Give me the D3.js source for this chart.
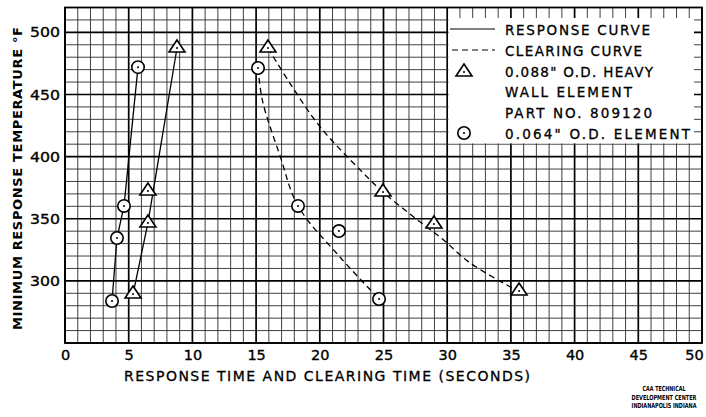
<!DOCTYPE html>
<html>
<head>
<meta charset="utf-8">
<script src="https://cdn.jsdelivr.net/npm/d3@7"></script>
<style>
  html, body { margin: 0; padding: 0; background: #fff; }
  svg { display: block; }
  text { font-family: "DejaVu Sans", sans-serif; fill: #000; }
</style>
</head>
<body>
<svg id="chart" width="706" height="417"></svg>
<script>
// ---- data ----
const xTickValues = [0, 5, 10, 15, 20, 25, 30, 35, 40, 45, 50];
const yTickValues = [300, 350, 400, 450, 500];

// markers: [seconds, °F]
const triResponse = [[5.34, 289.4], [6.51, 346.6], [6.51, 372.3], [8.79, 487.4]];
const cirResponse = [[3.69, 283.8], [4.08, 334.5], [4.63, 360.3], [5.73, 472.0]];
const triClearing = [[15.93, 487.4], [24.96, 371.5], [28.96, 345.8], [35.64, 291.8]];
const cirClearing = [[15.15, 471.3], [18.29, 360.3], [21.5, 340.1], [24.65, 285.4]];

// faired curves as drawn on the sheet
const triResponseCurve = [[5.34, 289.4], [6.51, 346.6], [8.79, 487.4]];
const cirResponseCurve = [[3.69, 283.8], [4.08, 334.5], [4.63, 360.3], [5.73, 472.0]];
const triClearingCurve = [[15.93, 487.4], [17.66, 459], [20.02, 424], [23.39, 387], [24.96, 371.5],
                          [27.3, 352], [29.7, 333], [31.66, 315.5], [34.93, 295.3], [35.64, 291.8]];
const cirClearingCurve = [[15.15, 471.3], [15.5, 445], [16.9, 400], [18.29, 360.3], [21.6, 319], [24.65, 285.4]];

const legendLines = ["RESPONSE CURVE", "CLEARING CURVE", "0.088\" O.D. HEAVY", "WALL ELEMENT", "PART NO. 809120", "0.064\" O.D. ELEMENT"];
const legendWidths = [145, 137, 148, 127, 147, 185];
const xTitle = "RESPONSE  TIME  AND  CLEARING  TIME  (SECONDS)";
const yTitle = "MINIMUM  RESPONSE  TEMPERATURE  °F";
const credit = ["CAA TECHNICAL", "DEVELOPMENT CENTER", "INDIANAPOLIS INDIANA"];
const creditWidths = [43, 65, 65];

// ---- layout ----
const svg = d3.select("#chart");
const x = d3.scaleLinear().domain([0, 50]).range([65, 702]);
const y = d3.scaleLinear().domain([250, 520]).range([343, 7.5]);

// grid
const grid = svg.append("g");
grid.selectAll("line.v").data(d3.range(0, 51, 1)).join("line")
  .attr("x1", d => x(d)).attr("x2", d => x(d))
  .attr("y1", y(250)).attr("y2", y(520))
  .attr("stroke", d => d % 5 === 0 ? "#000" : "#2a2a2a")
  .attr("stroke-width", d => d % 5 === 0 ? 1.7 : 0.9);
grid.selectAll("line.h").data(d3.range(250, 521, 10)).join("line")
  .attr("y1", d => y(d)).attr("y2", d => y(d))
  .attr("x1", x(0)).attr("x2", x(50))
  .attr("stroke", d => d % 50 === 0 ? "#000" : "#2a2a2a")
  .attr("stroke-width", d => d % 50 === 0 ? 1.7 : 0.9);

// frame
svg.append("rect")
  .attr("x", x(0)).attr("y", y(520))
  .attr("width", x(50) - x(0)).attr("height", y(250) - y(520))
  .attr("fill", "none").attr("stroke", "#000").attr("stroke-width", 1.8);

// legend area (white, grid erased)
svg.append("rect")
  .attr("x", x(30) + 1.2).attr("y", 18)
  .attr("width", 694 - x(30) - 1.2).attr("height", y(410) - 18 - 0.8)
  .attr("fill", "#fff");

// axes labels
const ax = svg.append("g").attr("transform", `translate(0,${y(250)})`)
  .call(d3.axisBottom(x).tickValues(xTickValues).tickSize(0).tickPadding(7).tickFormat(d3.format("d")));
ax.select(".domain").remove();
ax.selectAll("text").attr("font-size", 14.5).attr("font-family", "DejaVu Sans")
  .attr("stroke", "#000").attr("stroke-width", 0.35)
  .attr("dx", d => d === 50 ? -8 : 0);

const ay = svg.append("g").attr("transform", `translate(${x(0)},0)`)
  .call(d3.axisLeft(y).tickValues(yTickValues).tickSize(0).tickPadding(5).tickFormat(d3.format("d")));
ay.select(".domain").remove();
ay.selectAll("text").attr("font-size", 14.5).attr("font-family", "DejaVu Sans")
  .attr("stroke", "#000").attr("stroke-width", 0.35)
  .attr("textLength", 30).attr("lengthAdjust", "spacingAndGlyphs");

// titles
svg.append("text").attr("x", 124).attr("y", 381)
  .attr("font-size", 14).attr("stroke", "#000").attr("stroke-width", 0.3)
  .attr("textLength", 406).attr("lengthAdjust", "spacing")
  .text(xTitle);
svg.append("text")
  .attr("transform", "translate(22,330) rotate(-90)")
  .attr("font-size", 13).attr("font-weight", "bold")
  .attr("textLength", 303).attr("lengthAdjust", "spacing")
  .text(yTitle);

// credit (horizontally condensed to fit the corner)
svg.append("g").selectAll("text").data(credit).join("text")
  .attr("text-anchor", "middle").attr("font-size", 7).attr("font-weight", "bold")
  .text(d => d)
  .attr("transform", function (d, i) {
    const w = this.getComputedTextLength();
    const sx = creditWidths[i] / w;
    return `translate(664,${391 + i * 8.5}) scale(${sx},1)`;
  });

// curves
const line = d3.line().x(d => x(d[0])).y(d => y(d[1]));
const smooth = d3.line().x(d => x(d[0])).y(d => y(d[1])).curve(d3.curveCatmullRom.alpha(0.5));
const curves = svg.append("g").attr("fill", "none").attr("stroke", "#000").attr("stroke-width", 1.3);
curves.append("path").attr("d", line(cirResponseCurve));
curves.append("path").attr("d", line(triResponseCurve));
curves.append("path").attr("d", smooth(triClearingCurve)).attr("stroke-dasharray", "6,4");
curves.append("path").attr("d", smooth(cirClearingCurve)).attr("stroke-dasharray", "6,4");

// markers
const triPath = "M0,-8L8,4L-8,4Z";
function drawTri(g, px, py) {
  g.append("path").attr("d", triPath).attr("transform", `translate(${px},${py})`)
    .attr("fill", "#fff").attr("stroke", "#000").attr("stroke-width", 1.6);
  g.append("circle").attr("cx", px).attr("cy", py).attr("r", 1).attr("fill", "#000");
}
function drawCir(g, px, py) {
  g.append("circle").attr("cx", px).attr("cy", py).attr("r", 6.2)
    .attr("fill", "#fff").attr("stroke", "#000").attr("stroke-width", 1.6);
  g.append("circle").attr("cx", px).attr("cy", py).attr("r", 1).attr("fill", "#000");
}
const mk = svg.append("g");
triResponse.concat(triClearing).forEach(d => drawTri(mk, x(d[0]), y(d[1])));
cirResponse.concat(cirClearing).forEach(d => drawCir(mk, x(d[0]), y(d[1])));

// legend
const lg = svg.append("g");
lg.append("line").attr("x1", 450).attr("x2", 495).attr("y1", 29).attr("y2", 29)
  .attr("stroke", "#000").attr("stroke-width", 1.2);
lg.append("line").attr("x1", 452).attr("x2", 495).attr("y1", 50).attr("y2", 50)
  .attr("stroke", "#000").attr("stroke-width", 1.2).attr("stroke-dasharray", "6,4");
drawTri(lg, 464, 72);
drawCir(lg, 464, 133);
lg.selectAll("text").data(legendLines).join("text")
  .attr("x", 505).attr("y", (d, i) => 35 + i * 20.8)
  .attr("font-size", 13.5).attr("stroke", "#000").attr("stroke-width", 0.3)
  .attr("textLength", (d, i) => legendWidths[i]).attr("lengthAdjust", "spacing")
  .text(d => d);
</script>
</body>
</html>
